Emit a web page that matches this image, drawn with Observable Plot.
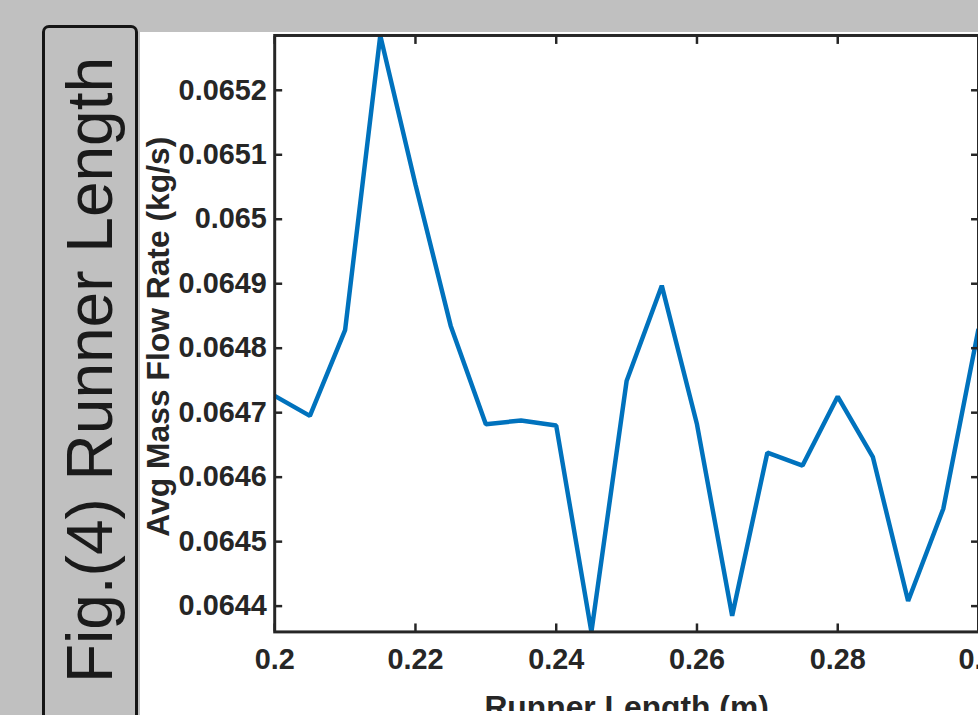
<!DOCTYPE html>
<html>
<head>
<meta charset="utf-8">
<script src="https://cdn.jsdelivr.net/npm/d3@7"></script>
<script src="https://cdn.jsdelivr.net/npm/@observablehq/plot@0.6"></script>
<style>
  html, body { margin: 0; padding: 0; width: 978px; height: 715px; overflow: hidden; background: #c0c0c0; }
  #white { position: absolute; left: 140px; top: 32px; width: 838px; height: 683px; background: #ffffff; overflow: hidden; }
  #figbox { position: absolute; left: 42px; top: 25px; width: 90px; height: 760px; border: 3px solid #151515; border-radius: 7px; background: #c0c0c0; }
  #figtext { position: absolute; left: 90px; top: 370px; transform: translate(-50%, -50%) rotate(-90deg); white-space: nowrap; font-family: "Liberation Sans", Arial, sans-serif; font-size: 64px; line-height: 1; color: #1a1a1a; }
</style>
</head>
<body>
<div id="white"></div>
<div id="figbox"></div>
<div id="figtext">Fig.(4) Runner Length</div>
<script>
const runnerLength = [0.2, 0.205, 0.21, 0.215, 0.22, 0.225, 0.23, 0.235, 0.24, 0.245, 0.25,
                      0.255, 0.26, 0.265, 0.27, 0.275, 0.28, 0.285, 0.29, 0.295, 0.3];
const avgMassFlow = [0.064726, 0.064695, 0.064828, 0.065285, 0.065054, 0.064835, 0.064682,
                     0.064688, 0.064680, 0.064360, 0.064749, 0.064897, 0.064682, 0.064385,
                     0.064638, 0.064618, 0.064725, 0.064631, 0.064408, 0.064551, 0.064830];
const xTicks = [0.2, 0.22, 0.24, 0.26, 0.28, 0.3];
const xTickLabels = ["0.2", "0.22", "0.24", "0.26", "0.28", "0.3"];
const yTicks = [0.0644, 0.0645, 0.0646, 0.0647, 0.0648, 0.0649, 0.065, 0.0651, 0.0652];
const yTickLabels = ["0.0644", "0.0645", "0.0646", "0.0647", "0.0648", "0.0649", "0.065", "0.0651", "0.0652"];
const xLabel = "Runner Length (m)";
const yLabel = "Avg Mass Flow Rate (kg/s)";

const data = runnerLength.map((x, i) => ({x, y: avgMassFlow[i]}));
const ink = "#262626";

const chart = Plot.plot({
  width: 843,
  height: 683,
  marginLeft: 135,
  marginRight: 0,
  marginTop: 3,
  marginBottom: 80,
  style: {fontFamily: "'Liberation Sans', Arial, sans-serif", fontSize: "29px", fontWeight: "bold", color: ink, background: "white"},
  x: {domain: [0.2, 0.3], ticks: xTicks},
  y: {domain: [0.06436, 0.065285], ticks: yTicks},
  marks: [
    Plot.line(data, {x: "x", y: "y", stroke: "#0072BD", strokeWidth: 4.5, strokeLinejoin: "miter", strokeLinecap: "butt"}),
    Plot.frame({stroke: ink, strokeWidth: 3}),
    Plot.axisY({anchor: "left", ticks: yTicks, tickSize: 0, tickPadding: 8, label: null,
                tickFormat: d => yTickLabels[yTicks.indexOf(d)]}),
    Plot.axisY({anchor: "left", ticks: yTicks, tickSize: 8, dx: 8, strokeWidth: 2.5, label: null, tickFormat: () => ""}),
    Plot.axisY({anchor: "right", ticks: yTicks, tickSize: 8, dx: -8, strokeWidth: 2.5, label: null, tickFormat: () => ""}),
    Plot.axisX({anchor: "bottom", ticks: xTicks, tickSize: 0, tickPadding: 17, label: null,
                tickFormat: d => xTickLabels[xTicks.indexOf(d)]}),
    Plot.axisX({anchor: "bottom", ticks: xTicks, tickSize: 8, dy: -8, strokeWidth: 2.5, label: null, tickFormat: () => ""}),
    Plot.axisX({anchor: "top", ticks: xTicks, tickSize: 8, dy: 8, strokeWidth: 2.5, label: null, tickFormat: () => ""}),
    Plot.text([yLabel], {frameAnchor: "left", dx: -117, dy: 3, rotate: -90, fontSize: 32, fontWeight: "bold", fill: ink, textAnchor: "middle", lineAnchor: "middle"}),
    Plot.text([xLabel], {frameAnchor: "bottom", dy: 64, fontSize: 32, fontWeight: "bold", fill: ink, textAnchor: "middle", lineAnchor: "top"})
  ]
});
document.getElementById("white").appendChild(chart);
</script>
</body>
</html>
